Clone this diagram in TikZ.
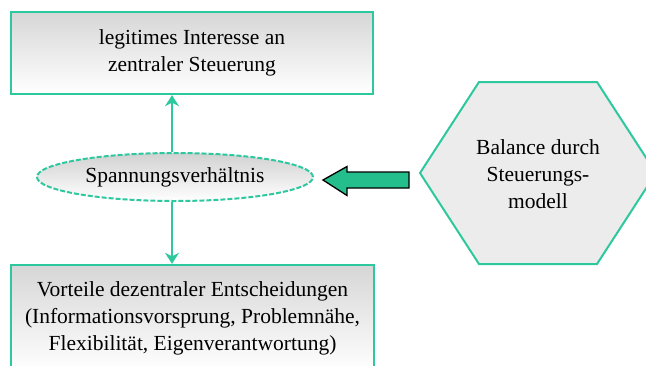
\documentclass[tikz,border=0pt]{standalone}
\usepackage{fontspec}
\setmainfont{Liberation Serif}
\usetikzlibrary{arrows.meta,shapes.geometric}
\definecolor{turq}{RGB}{45,200,158}
\definecolor{arrowfill}{RGB}{35,190,140}
\definecolor{hexfill}{RGB}{236,236,236}
\tikzset{
  box/.style={draw=turq, line width=2.4pt, top color=black!16, bottom color=white,
    align=center, inner sep=0pt, font=\fontsize{21.5}{27}\selectfont},
  oval/.style={ellipse, draw=turq, line width=2pt, dash pattern=on 5pt off 2pt,
    top color=black!18, bottom color=white, inner sep=0pt,
    font=\fontsize{21.5}{27}\selectfont},
  hexlabel/.style={align=center, inner sep=0pt, font=\fontsize{21.5}{27}\selectfont},
  conn/.style={draw=turq, line width=2.6pt, -{Stealth[length=11pt,width=14pt]}},
}
\begin{document}
\begin{tikzpicture}[x=1pt,y=-1pt]
\useasboundingbox (0,0) rectangle (646,365);
\clip (0,0) rectangle (646,365);
\fill[white] (0,0) rectangle (646,365);
% hexagon
\draw[turq, line width=2pt, fill=hexfill] (420,173) -- (479,82) -- (597,82) -- (656,173) -- (597,264) -- (479,264) -- cycle;
\node[hexlabel] (hex) at (538,174) {Balance durch\\Steuerungs-\\modell};
% boxes
\node[box, minimum width=362pt, minimum height=82pt] (top) at (192,53)
  {legitimes Interesse an\\zentraler Steuerung};
\node[box, minimum width=363pt, minimum height=107pt] (bot) at (192.5,318.5)
  {Vorteile dezentraler Entscheidungen\\(Informationsvorsprung, Problemnähe,\\Flexibilität, Eigenverantwortung)};
% ellipse
\node[oval, minimum width=276pt, minimum height=48pt] (sp) at (175,177) {Spannungsverhältnis};
% connectors
\draw[conn] (sp.north -| 172,0) -- (top.south -| 172,0);
\draw[conn] (sp.south -| 172,0) -- (bot.north -| 172,0);
% block arrow
\draw[black, line width=1.3pt, fill=arrowfill, line join=miter]
  (323,180) -- (347,166.5) -- (347,172) -- (409,172) -- (409,188) -- (347,188) -- (347,195.5) -- cycle;
\end{tikzpicture}
\end{document}
